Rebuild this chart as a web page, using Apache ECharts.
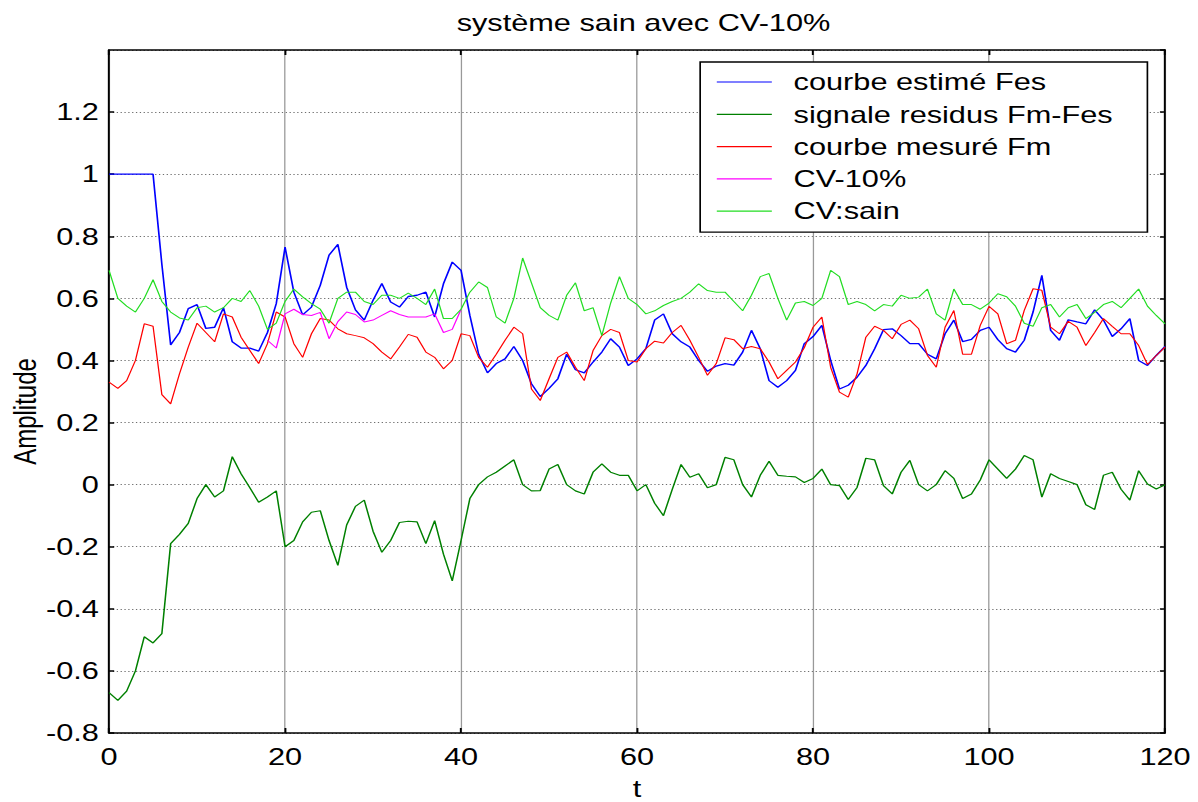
<!DOCTYPE html>
<html>
<head>
<meta charset="utf-8">
<script src="https://cdn.jsdelivr.net/npm/echarts@6/dist/echarts.min.js"></script>
<style>
  html, body { margin: 0; padding: 0; background: #fff; overflow: hidden; }
  #wrap { width: 1198px; height: 802px; overflow: hidden; }
  /* the figure is laid out at 936px wide and stretched horizontally to 1198px */
  #chart { width: 936px; height: 802px; transform: scaleX(1.28); transform-origin: 0 0; }
</style>
</head>
<body>
<div id="wrap"><div id="chart"></div></div>
<script>
// ---- data: one sample per time unit, t = 0 .. 120 ----
const titleText = 'système sain avec CV-10%';
const xName = 't';
const yName = 'Amplitude';

const seriesNames = ['courbe estimé Fes', 'signale residus Fm-Fes', 'courbe mesuré Fm', 'CV-10%', 'CV:sain'];

// estimated curve Fes
const fes = [
  1.0, 1.0, 1.0, 1.0, 1.0, 1.0, 0.71, 0.45, 0.49, 0.567,
  0.58, 0.503, 0.507, 0.57, 0.46, 0.44, 0.44, 0.43, 0.49, 0.583,
  0.765, 0.62, 0.547, 0.572, 0.642, 0.739, 0.774, 0.636, 0.563, 0.53,
  0.594, 0.648, 0.588, 0.572, 0.606, 0.61, 0.62, 0.54, 0.647, 0.717,
  0.69, 0.545, 0.42, 0.36, 0.39, 0.405, 0.445, 0.4, 0.325, 0.284,
  0.31, 0.341, 0.42, 0.37, 0.36, 0.395, 0.427, 0.47, 0.443, 0.384,
  0.405, 0.438, 0.53, 0.55, 0.486, 0.46, 0.443, 0.4, 0.365, 0.382,
  0.39, 0.385, 0.427, 0.497, 0.438, 0.335, 0.314, 0.335, 0.368, 0.454,
  0.477, 0.513, 0.4, 0.308, 0.32, 0.346, 0.384, 0.438, 0.499, 0.502,
  0.48, 0.454, 0.454, 0.42, 0.405, 0.486, 0.53, 0.461, 0.468, 0.497,
  0.507, 0.467, 0.438, 0.427, 0.465, 0.556, 0.674, 0.497, 0.465, 0.531,
  0.524, 0.518, 0.563, 0.53, 0.477, 0.502, 0.535, 0.4, 0.384, 0.416,
  0.445
];

// residual signal Fm - Fes
const residu = [
  -0.67, -0.695, -0.665, -0.6, -0.49, -0.51, -0.48, -0.19, -0.16, -0.125,
  -0.045, 0.0, -0.04, -0.02, 0.09, 0.035, -0.01, -0.057, -0.04, -0.02,
  -0.2, -0.18, -0.12, -0.089, -0.084, -0.18, -0.26, -0.13, -0.07, -0.05,
  -0.15, -0.218, -0.18, -0.122, -0.118, -0.12, -0.19, -0.116, -0.224, -0.31,
  -0.18, -0.045, 0.0, 0.025, 0.04, 0.06, 0.08, 0.0, -0.02, -0.019,
  0.05, 0.065, 0.0, -0.02, -0.03, 0.04, 0.067, 0.04, 0.03, 0.03,
  -0.02, 0.0, -0.06, -0.1, -0.015, 0.065, 0.024, 0.035, -0.01, 0.0,
  0.088, 0.08, 0.0, -0.04, 0.03, 0.075, 0.03, 0.027, 0.025, 0.007,
  0.02, 0.05, 0.0, -0.003, -0.048, -0.009, 0.085, 0.08, -0.003, -0.03,
  0.04, 0.078, 0.0, -0.02, 0.0, 0.045, 0.02, -0.045, -0.03, 0.015,
  0.08, 0.05, 0.02, 0.05, 0.094, 0.08, -0.04, 0.035, 0.02, 0.01,
  0.0, -0.065, -0.08, 0.03, 0.04, -0.015, -0.05, 0.045, 0.002, -0.014,
  0.0
];

// measured curve Fm
const fm = [
  0.33, 0.31, 0.335, 0.4, 0.518, 0.51, 0.29, 0.26, 0.357, 0.443,
  0.52, 0.49, 0.46, 0.55, 0.54, 0.475, 0.432, 0.39, 0.454, 0.556,
  0.54, 0.454, 0.41, 0.486, 0.535, 0.53, 0.502, 0.486, 0.48, 0.473,
  0.454, 0.427, 0.405, 0.443, 0.484, 0.475, 0.427, 0.41, 0.373, 0.4,
  0.486, 0.48, 0.41, 0.378, 0.42, 0.465, 0.507, 0.486, 0.308, 0.271,
  0.341, 0.41, 0.427, 0.378, 0.335, 0.432, 0.48, 0.5, 0.49, 0.4,
  0.395, 0.438, 0.462, 0.456, 0.49, 0.513, 0.465, 0.41, 0.352, 0.39,
  0.473, 0.467, 0.438, 0.445, 0.438, 0.395, 0.341, 0.368, 0.395, 0.441,
  0.507, 0.54, 0.378, 0.298, 0.282, 0.357, 0.475, 0.51, 0.497, 0.47,
  0.516, 0.53, 0.502, 0.416, 0.378, 0.507, 0.561, 0.42, 0.42, 0.513,
  0.574, 0.55, 0.454, 0.465, 0.561, 0.631, 0.626, 0.507, 0.486, 0.526,
  0.507, 0.448, 0.49, 0.535, 0.51, 0.486, 0.486, 0.448, 0.387, 0.416,
  0.443
];

// CV-10% curve, defined from t = 18 to t = 40
const cv10Start = 18;
const cv10 = [
  0.465, 0.44, 0.55, 0.565, 0.548, 0.545, 0.555, 0.47, 0.525, 0.556,
  0.548, 0.524, 0.53, 0.545, 0.56, 0.548, 0.54, 0.54, 0.54, 0.55,
  0.49, 0.5, 0.565
];

// healthy CV curve
const cvSain = [
  0.69, 0.6, 0.575, 0.556, 0.6, 0.66, 0.59, 0.556, 0.537, 0.53,
  0.57, 0.575, 0.556, 0.57, 0.6, 0.59, 0.625, 0.575, 0.5, 0.52,
  0.59, 0.63, 0.605, 0.583, 0.565, 0.52, 0.6, 0.62, 0.62, 0.59,
  0.58, 0.61, 0.61, 0.6, 0.617, 0.6, 0.58, 0.63, 0.535, 0.535,
  0.565, 0.62, 0.653, 0.635, 0.54, 0.52, 0.6, 0.73, 0.65, 0.57,
  0.545, 0.53, 0.61, 0.65, 0.56, 0.57, 0.48, 0.585, 0.67, 0.6,
  0.58, 0.55, 0.56, 0.577, 0.59, 0.6, 0.62, 0.647, 0.625, 0.62,
  0.62, 0.59, 0.56, 0.61, 0.67, 0.68, 0.6, 0.53, 0.585, 0.59,
  0.577, 0.6, 0.69, 0.67, 0.58, 0.59, 0.58, 0.56, 0.58, 0.575,
  0.61, 0.6, 0.604, 0.63, 0.55, 0.53, 0.63, 0.58, 0.58, 0.565,
  0.585, 0.615, 0.605, 0.575, 0.52, 0.51, 0.57, 0.58, 0.54, 0.57,
  0.58, 0.535, 0.555, 0.58, 0.59, 0.57, 0.6, 0.63, 0.575, 0.545,
  0.518
];

const seriesColors = ['#0000ff', '#008000', '#ff0000', '#ff00ff', '#22dd22'];
const seriesWidths = [1.3, 1.2, 1, 1, 1];

// ---- chart ----
const FONT = '"Liberation Sans", Arial, Helvetica, sans-serif';
const chart = echarts.init(document.getElementById('chart'), null, { renderer: 'svg' });

const toPairs = (arr, t0) => arr.map((v, i) => [t0 + i, v]);

const gridLeft = 85.2, gridRight = 25.8, gridTop = 50, gridBottom = 69;

const xBase = {
  type: 'value', min: 0, max: 120, interval: 20,
  axisLine: { show: true, onZero: false, lineStyle: { color: '#000', width: 1.5 } },
  axisTick: { show: true, inside: true, length: 5, lineStyle: { color: '#000', width: 1.5 } }
};
const yBase = {
  type: 'value', min: -0.8, max: 1.4, interval: 0.2,
  axisLine: { show: true, onZero: false, lineStyle: { color: '#000', width: 1.5 } },
  axisTick: { show: true, inside: true, length: 4, lineStyle: { color: '#000', width: 1.5 } }
};

const lines = [fes, residu, fm, null, cvSain];
const series = seriesNames.map((name, k) => ({
  name: name,
  type: 'line',
  xAxisIndex: 0,
  yAxisIndex: 0,
  data: k === 3 ? toPairs(cv10, cv10Start) : toPairs(lines[k], 0),
  symbol: 'none',
  color: seriesColors[k],
  lineStyle: { color: seriesColors[k], width: seriesWidths[k] },
  emphasis: { disabled: true },
  z: 2 + k
}));

chart.setOption({
  animation: false,
  backgroundColor: '#ffffff',
  textStyle: { fontFamily: FONT },
  title: {
    text: titleText,
    left: gridLeft + (936 - gridLeft - gridRight) / 2,
    textAlign: 'center',
    top: 6,
    textStyle: { fontFamily: FONT, fontSize: 24, fontWeight: 'normal', color: '#000' }
  },
  grid: {
    left: gridLeft, right: gridRight, top: gridTop, bottom: gridBottom,
    containLabel: false, outerBoundsMode: 'none'
  },
  legend: {
    orient: 'vertical',
    left: 547,
    top: 62,
    padding: [8, 27, 9, 13],
    icon: 'rect',
    itemWidth: 43,
    itemHeight: 1.2,
    itemGap: 8.3,
    backgroundColor: '#ffffff',
    borderColor: '#000',
    borderWidth: 1.3,
    borderRadius: 0,
    selectedMode: false,
    textStyle: { fontFamily: FONT, fontSize: 24, lineHeight: 24, color: '#000', padding: [0, 0, 0, 12] },
    data: seriesNames
  },
  xAxis: [
    Object.assign({}, xBase, {
      position: 'bottom',
      name: xName,
      nameLocation: 'middle',
      nameGap: 44,
      nameMoveOverlap: false,
      nameTextStyle: { fontFamily: FONT, fontSize: 24, color: '#000' },
      axisLabel: { color: '#000', fontFamily: FONT, fontSize: 24, margin: 12 },
      splitLine: { show: true, lineStyle: { color: '#999999', width: 1, type: 'solid' } }
    }),
    Object.assign({}, xBase, {
      position: 'top',
      axisLabel: { show: false },
      splitLine: { show: false }
    })
  ],
  yAxis: [
    Object.assign({}, yBase, {
      position: 'left',
      name: yName,
      nameLocation: 'middle',
      nameGap: 53,
      nameMoveOverlap: false,
      nameTextStyle: { fontFamily: FONT, fontSize: 24, color: '#000', padding: [0, 40, 0, 0] },
      axisLabel: { color: '#000', fontFamily: FONT, fontSize: 24, margin: 8, showMaxLabel: false },
      splitLine: { show: true, lineStyle: { color: '#6e6e6e', width: 1, type: [1, 2] } }
    }),
    Object.assign({}, yBase, {
      position: 'right',
      axisLabel: { show: false },
      splitLine: { show: false }
    })
  ],
  series: series
});
</script>
</body>
</html>
